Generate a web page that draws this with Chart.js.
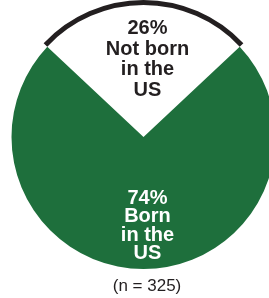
<!DOCTYPE html>
<html>
<head>
<meta charset="utf-8">
<script src="https://cdn.jsdelivr.net/npm/chart.js@4.4.1/dist/chart.umd.min.js"></script>
<style>
  html, body { margin: 0; padding: 0; background: #fff; overflow: hidden; }
  #wrap { position: relative; width: 269px; height: 298px; overflow: hidden; }
  #chart { position: absolute; left: 0; top: 0; }
  #note {
    position: absolute; left: 0; top: 276px; width: 294px; text-align: center;
    font: 17px "Liberation Sans", Arial, sans-serif; color: #231f20;
  }
</style>
</head>
<body>
<div id="wrap">
  <canvas id="chart" width="287" height="298"></canvas>
  <div id="note"></div>
</div>
<script>
// data
const categories = [['Not born', 'in the', 'US'], ['Born', 'in the', 'US']];
const percents = [26, 74];
const sampleSize = 325;

const GREEN = '#1e6f3c';
const DARK = '#231f20';

document.getElementById('note').textContent = `(n = ${sampleSize})`;

// draws the "26% / Not born / in the / US" style labels inside each slice
const sliceLabels = {
  id: 'sliceLabels',
  afterDatasetsDraw(chart, args, opts) {
    const meta = chart.getDatasetMeta(1);
    const ctx = chart.ctx;
    ctx.save();
    ctx.font = 'bold 20px "Liberation Sans", Arial, sans-serif';
    ctx.textAlign = 'center';
    ctx.textBaseline = 'alphabetic';
    meta.data.forEach((arc, i) => {
      const p = arc.getProps(['x', 'y', 'startAngle', 'endAngle', 'outerRadius'], true);
      const mid = (p.startAngle + p.endAngle) / 2;
      const cx = p.x + Math.cos(mid) * p.outerRadius * opts.dist[i] + opts.dx;
      const cy = p.y + Math.sin(mid) * p.outerRadius * opts.dist[i];
      const lines = [percents[i] + '%'].concat(categories[i]);
      const lh = opts.lineHeight[i];
      const capH = 14.5;
      const blockH = (lines.length - 1) * lh + capH;
      let y = cy - blockH / 2 + capH;
      ctx.fillStyle = opts.color[i];
      lines.forEach(t => { ctx.fillText(t, cx, y); y += lh; });
    });
    ctx.restore();
  }
};

new Chart(document.getElementById('chart'), {
  type: 'pie',
  data: {
    labels: categories,
    datasets: [
      {
        // thin black arc over the "not born" slice
        data: percents,
        backgroundColor: [DARK, 'rgba(0,0,0,0)'],
        borderWidth: 0,
        weight: 5,
        radius: 137
      },
      {
        data: percents,
        backgroundColor: ['#ffffff', GREEN],
        borderWidth: 0,
        weight: 132,
        radius: 137
      }
    ]
  },
  options: {
    responsive: false,
    animation: false,
    events: [],
    rotation: -46.8,
    layout: { padding: { top: 0, left: 0, right: 0, bottom: 24 } },
    plugins: {
      legend: { display: false },
      tooltip: { enabled: false },
      sliceLabels: {
        dist: [0.6, 0.66],
        dx: 4,
        lineHeight: [20.5, 18.5],
        color: [DARK, '#ffffff']
      }
    }
  },
  plugins: [sliceLabels]
});
</script>
</body>
</html>
